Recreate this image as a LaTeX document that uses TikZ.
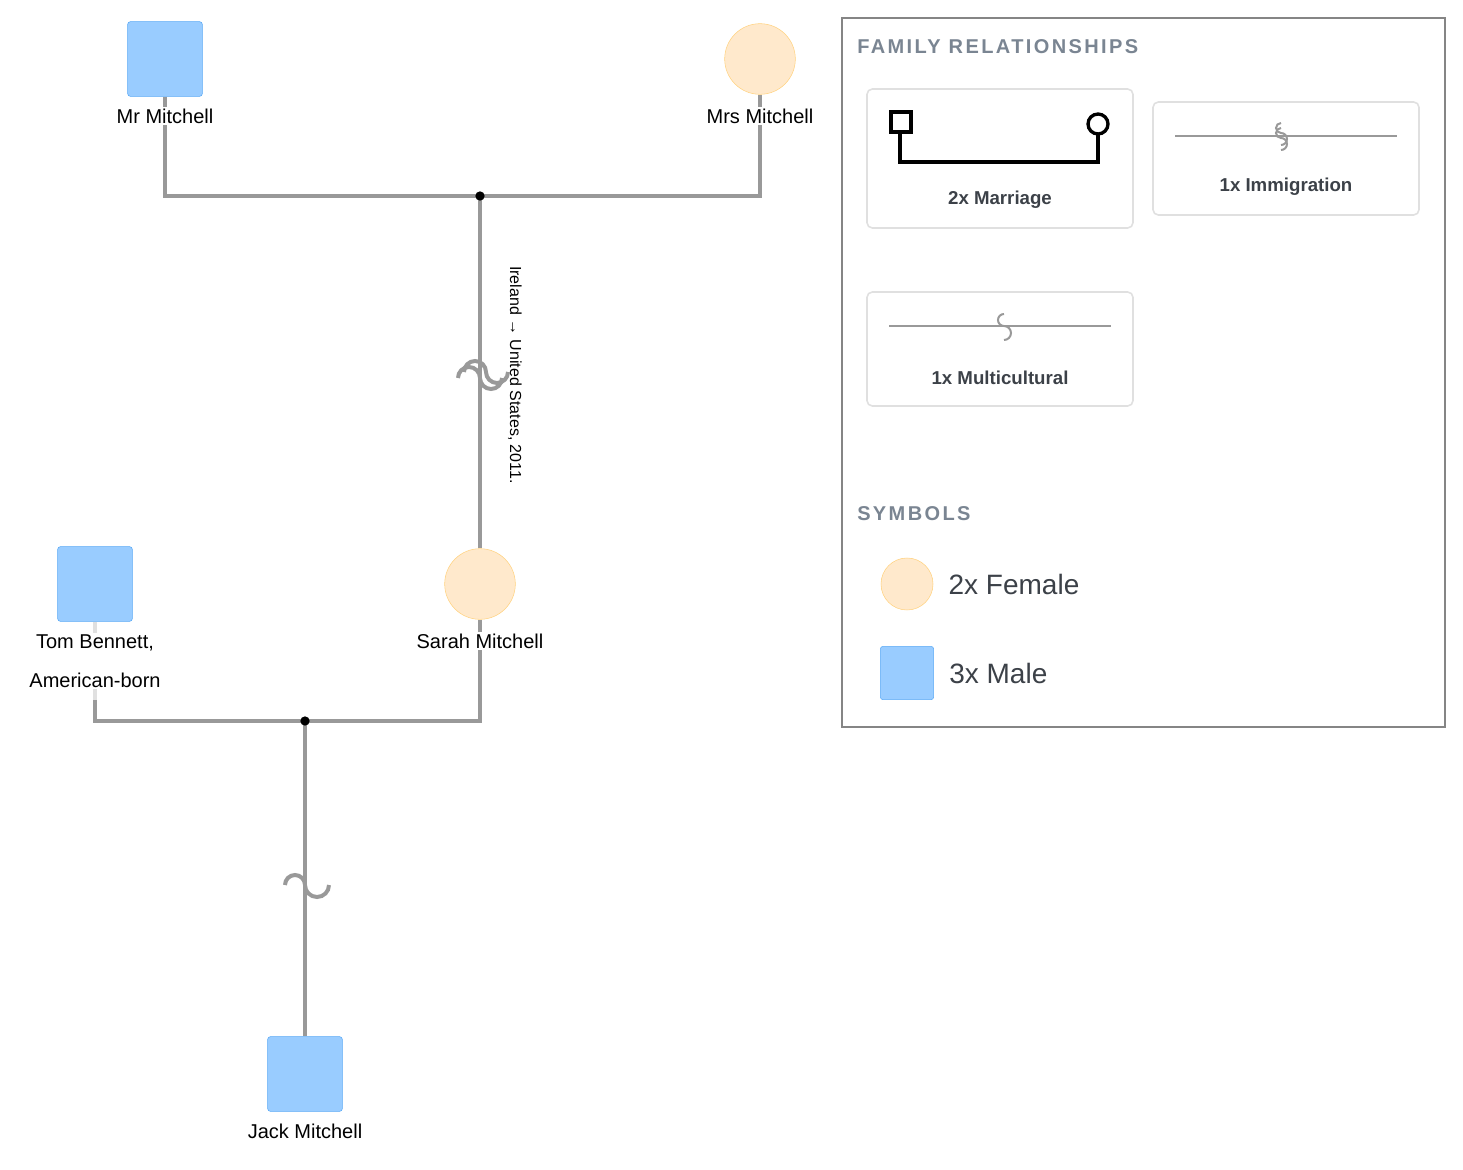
\documentclass[tikz,border=0pt]{standalone}
\usepackage{fontspec}
\setmainfont{Liberation Sans}
\newfontfamily\spaced[LetterSpace=12]{Liberation Sans}
\usetikzlibrary{positioning}
\definecolor{male}{HTML}{99CCFF}
\definecolor{maled}{HTML}{5AA9F5}
\definecolor{fem}{HTML}{FFE9CC}
\definecolor{femd}{HTML}{FFD27F}
\definecolor{link}{HTML}{999999}
\definecolor{head}{HTML}{7A8592}
\definecolor{cardtxt}{HTML}{3C4148}
\tikzset{
  male/.style={draw=maled,fill=male,minimum size=56pt,inner sep=0pt,rounded corners=2pt},
  female/.style={circle,draw=femd,fill=fem,minimum size=53pt,inner sep=0pt},
  pname/.style={font=\fontsize{15}{18}\selectfont,align=center,fill=white,inner sep=1pt},
  rel/.style={link,line width=2.6pt},
  card/.style={draw=black!12,line width=1.2pt,rounded corners=4pt},
  cardlbl/.style={font=\bfseries\fontsize{14}{16}\selectfont,text=cardtxt},
  hd/.style={font=\spaced\bfseries\fontsize{15}{17}\selectfont,text=head,anchor=west,inner sep=0pt}
}
\begin{document}
\begin{tikzpicture}[x=0.75pt,y=-0.75pt]
\useasboundingbox (0,0) rectangle (1463,1170);
% people
\node[male] (mr) at (165,59) {};
\node[female] (mrs) at (760,59) {};
\node[female] (sarah) at (480,584) {};
\node[male] (tom) at (95,584) {};
\node[male] (jack) at (305,1074) {};
% marriage lines
\coordinate (u1) at (480,196);
\coordinate (u2) at (305,721);
\draw[rel] (mr.south) |- (u1) -| (mrs.south);
\draw[rel] (u1) -- (sarah.north);
\draw[rel,black!12] (tom.south) -- (95,700);
\draw[rel] (95,700) |- (u2) -| (sarah.south);
\draw[rel] (u2) -- (jack.north);
\fill (u1) circle[radius=3.5pt];
\fill (u2) circle[radius=3.5pt];
% names
\node[pname] (mrn) at (165,116) {Mr Mitchell};
\node[pname] (mrsn) at (760,116) {Mrs Mitchell};
\node[pname] (sarahn) at (480,641) {Sarah Mitchell};
\node[pname] (tomn) at (95,661) {Tom Bennett,\\[11pt]American-born};
\node[pname] (jackn) at (305,1131) {Jack Mitchell};
% immigration mark
\foreach \dx/\dy in {0/0,6/-6}{
  \draw[link,line width=3pt] (458+\dx,378+\dy) arc[start angle=180,end angle=360,radius=11]
    arc[start angle=180,end angle=0,radius=11];}
\node[rotate=-90,font=\fontsize{12}{14}\selectfont] (migr) at (515,375) {Ireland → United States, 2011.};
% multicultural mark
\draw[link,line width=3pt] (285,885) arc[start angle=180,end angle=360,radius=10]
  arc[start angle=180,end angle=0,radius=12];
% legend
\draw[link!120,line width=2pt] (842,18) rectangle (1445,727);
\node[hd] (hfam) at (857,47) {FAMILY RELATIONSHIPS};
\draw[card] (867,89) rectangle (1133,228);
\draw[card] (1153,102) rectangle (1419,215);
\draw[card] (867,292) rectangle (1133,406);
\draw[line width=2.5pt] (900,112) -- (900,162) -- (1098,162) -- (1098,132);
\draw[line width=2.5pt,fill=white] (891,112) rectangle (911,132);
\draw[line width=2.5pt,fill=white] (1098,124) circle[radius=10];
\node[cardlbl] (lmar) at (1000,200) {2x Marriage};
\draw[link,line width=1.5pt] (1175,136) -- (1397,136);
\foreach \dy in {0,5}{
  \draw[link,line width=1.5pt] (1281,123+\dy) arc[start angle=270,end angle=90,radius=5]
    arc[start angle=-90,end angle=90,radius=6];}
\node[cardlbl] (limm) at (1286,187) {1x Immigration};
\draw[link,line width=1.5pt] (889,326) -- (1111,326);
\draw[link,line width=1.5pt] (1004,314) arc[start angle=270,end angle=90,radius=6]
  arc[start angle=-90,end angle=90,radius=7];
\node[cardlbl] (lmul) at (1000,378) {1x Multicultural};
\node[hd] (hsym) at (857,514) {SYMBOLS};
\node[female,minimum size=39pt] (sf) at (907,584) {};
\node[right=8pt of sf,font=\fontsize{21}{25}\selectfont,text=cardtxt] (lf) {2x Female};
\node[male,minimum size=40pt] (sm) at (907,673) {};
\node[right=8pt of sm,font=\fontsize{21}{25}\selectfont,text=cardtxt] (lm) {3x Male};
\end{tikzpicture}
\end{document}
